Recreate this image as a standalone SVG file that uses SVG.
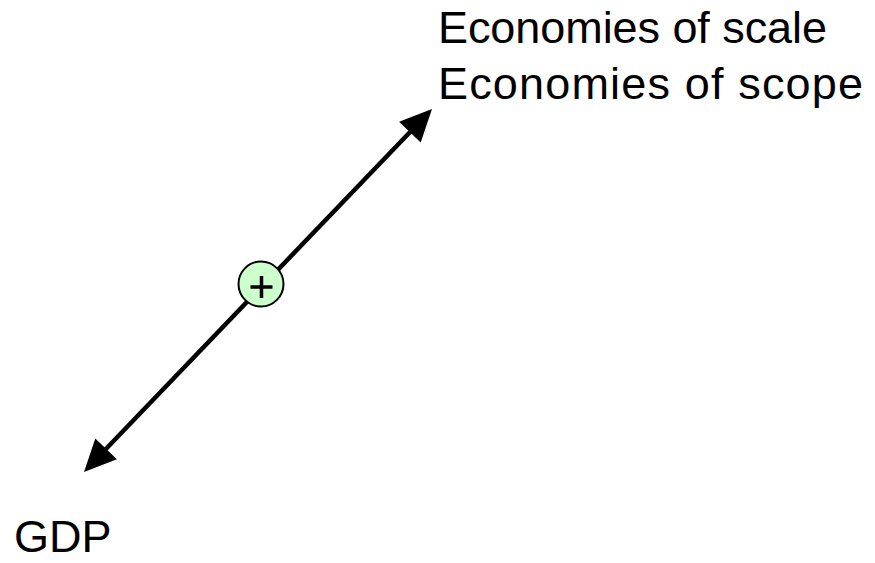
<svg xmlns="http://www.w3.org/2000/svg" width="875" height="563" viewBox="0 0 875 563">
<style>
.lbl{font-family:"Liberation Sans",Arial,sans-serif;font-size:45px;fill:#000}
.edge{stroke:#000;stroke-width:4.5;fill:none}
.head{fill:#000}
</style>
<rect width="875" height="563" fill="#fff"/>
<g id="connectors">
<line class="edge" x1="104" y1="451" x2="412" y2="130"/>
<polygon class="head" points="432,109 420.7,142.5 399.1,121.7"/>
<polygon class="head" points="84,472 95.3,438.5 116.9,459.3"/>
</g>
<g id="node-economies">
<text class="lbl" x="438" y="43" textLength="389">Economies of scale</text>
<text class="lbl" x="438" y="99" textLength="425">Economies of scope</text>
</g>
<g id="node-gdp">
<text class="lbl" x="14" y="552">GDP</text>
</g>
<g id="node-sign">
<circle cx="261" cy="284" r="22.5" fill="#ccffcc" stroke="#000" stroke-width="2"/>
<path d="M250.5 287h22M261.5 276v22" stroke="#000" stroke-width="3.5"/>
</g>
</svg>
